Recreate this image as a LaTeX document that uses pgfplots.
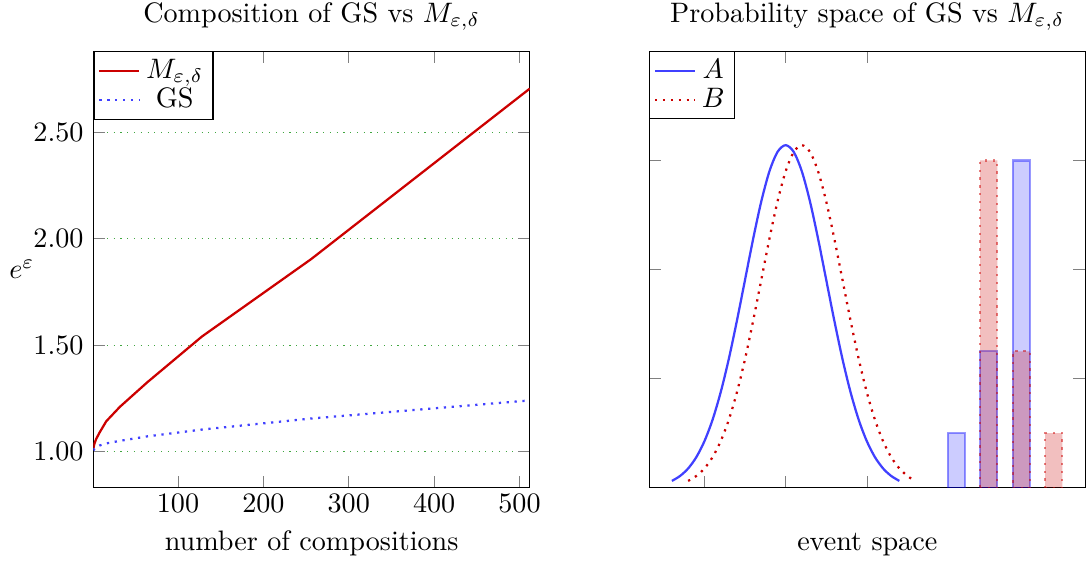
\documentclass[border=0pt]{standalone}
\usepackage{pgfplots}
\pgfplotsset{compat=1.18}
\definecolor{mred}{rgb}{0.8,0,0}
\definecolor{mblue}{rgb}{0.25,0.25,1}
\definecolor{mgrid}{rgb}{0.25,0.65,0.25}
\pgfplotsset{
  every axis title shift=0pt,
  panel/.style={
    scale only axis, width=155pt, height=155pt,
    title style={at={(axis description cs:0.5,1)}, anchor=base, yshift=10.2pt, inner ysep=1pt},
    xlabel style={at={(axis description cs:0.5,0)}, anchor=base, yshift=-22.2pt, inner ysep=2.5pt},
    xticklabel style={yshift=1pt},
    legend style={at={(0,1)}, anchor=north west, legend cell align=center,
      nodes={inner xsep=2pt, inner ysep=1pt}, inner xsep=1.5pt, inner ysep=1.5pt},
    legend image code/.code={\draw[##1] (0cm,0cm) -- (0.5cm,0cm);},
  },
}
\begin{document}
\begin{tikzpicture}
% left: privacy loss under composition
\begin{axis}[name=L, panel,
  xmin=1, xmax=512, ymin=0.83, ymax=2.88,
  xtick={100,200,300,400,500}, ytick={1,1.5,2,2.5},
  yticklabel style={/pgf/number format/.cd, fixed, fixed zerofill, precision=2},
  ymajorgrids, major grid style={dotted, mgrid},
  title={Composition of GS vs $M_{\varepsilon,\delta}$},
  xlabel={number of compositions},
  ylabel={$e^{\varepsilon}$},
  ylabel style={rotate=-90, at={(axis description cs:0,0.5)}, anchor=west, xshift=-33.4pt},
]
\addplot[mred, thick] coordinates {
  (1,1.015) (2,1.035) (4,1.057) (8,1.088) (16,1.142) (32,1.21)
  (64,1.325) (128,1.54) (256,1.904) (512,2.705)};
\addlegendentry{$M_{\varepsilon,\delta}$}
\addplot[mblue, thick, dotted] coordinates {
  (1,1.005) (2,1.012) (4,1.02) (8,1.028) (16,1.038) (32,1.05)
  (64,1.071) (128,1.103) (256,1.155) (512,1.24)};
\addlegendentry{GS}
\end{axis}
% right: the two output distributions
\begin{axis}[at={(L.south east)}, anchor=south west, xshift=42.4pt, panel,
  xmin=-3.36, xmax=7.38, ymin=0, ymax=4,
  xtick={-2,0,2}, ytick={1,2,3}, xticklabels={}, yticklabels={},
  title={Probability space of GS vs $M_{\varepsilon,\delta}$},
  xlabel={event space},
]
\addplot[mblue, thick, smooth] coordinates {
  (-2.8,0.062) (-2.6,0.107) (-2.4,0.176) (-2.2,0.279) (-2.0,0.425)
  (-1.8,0.621) (-1.6,0.873) (-1.4,1.178) (-1.2,1.529) (-1.0,1.904)
  (-0.8,2.280) (-0.6,2.623) (-0.4,2.899) (-0.2,3.078) (0.0,3.140)
  (0.2,3.078) (0.4,2.899) (0.6,2.623) (0.8,2.280) (1.0,1.904)
  (1.2,1.529) (1.4,1.178) (1.6,0.873) (1.8,0.621) (2.0,0.425)
  (2.2,0.279) (2.4,0.176) (2.6,0.107) (2.8,0.062)};
\addlegendentry{$A$}
\addplot[mred, thick, dotted, smooth] coordinates {
  (-2.4,0.062) (-2.2,0.107) (-2.0,0.176) (-1.8,0.279) (-1.6,0.425)
  (-1.4,0.621) (-1.2,0.873) (-1.0,1.178) (-0.8,1.529) (-0.6,1.904)
  (-0.4,2.280) (-0.2,2.623) (0.0,2.899) (0.2,3.078) (0.4,3.140)
  (0.6,3.078) (0.8,2.899) (1.0,2.623) (1.2,2.280) (1.4,1.904)
  (1.6,1.529) (1.8,1.178) (2.0,0.873) (2.2,0.621) (2.4,0.425)
  (2.6,0.279) (2.8,0.176) (3.0,0.107) (3.1,0.082)};
\addlegendentry{$B$}
\addplot[forget plot, ybar, bar width=0.42, bar shift=0pt,
  fill=blue, fill opacity=0.2, draw=blue, draw opacity=0.4, thick]
  coordinates {(4.2,0.5) (5.0,1.25) (5.8,3.0)};
\addplot[forget plot, ybar, bar width=0.42, bar shift=0pt,
  fill=mred, fill opacity=0.25, draw=mred, draw opacity=0.5, thick, dotted]
  coordinates {(5.0,3.0) (5.8,1.25) (6.6,0.5)};
\end{axis}
\end{tikzpicture}
\end{document}
